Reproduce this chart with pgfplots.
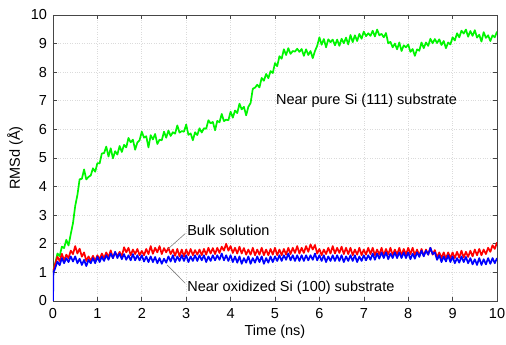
\documentclass[border=0pt]{standalone}
\usepackage{pgfplots}
\pgfplotsset{compat=1.18}
\usepackage{fontspec}
\setmainfont{Liberation Sans}
\definecolor{cgreen}{RGB}{0,245,0}
\definecolor{cred}{RGB}{255,0,0}
\definecolor{cblue}{RGB}{0,0,255}
\definecolor{axgray}{RGB}{70,70,70}
\begin{document}
\fontsize{14.5}{17}\selectfont
\begin{tikzpicture}
\path[use as bounding box] (-53pt,-44pt) rectangle (453pt,301pt);
\begin{axis}[
  at={(0,0)}, anchor=south west,
  scale only axis, width=444pt, height=286pt,
  xmin=0, xmax=10, ymin=0, ymax=10,
  xtick={0,1,...,10}, ytick={0,1,...,10},
  tick align=inside, tick pos=both,
  major tick length=4pt,
  axis line style={axgray, line width=0.9pt},
  tick style={axgray, line width=0.6pt},
  grid=major,
  major grid style={gray!28, dotted, line width=0.6pt},
  /pgf/number format/assume math mode=true,
  ticklabel style={font=\fontsize{14.5}{17}\selectfont},
  xticklabel style={yshift=-2pt},
  yticklabel style={xshift=-1pt},
  label style={font=\fontsize{14.5}{17}\selectfont},
  xlabel={Time (ns)}, ylabel={RMSd (Å)},
  xlabel style={yshift=3pt},
  ylabel style={yshift=-2pt},
  clip=true,
]
\addplot[cgreen, line width=1.7pt, line join=round] coordinates {
(0,1.0) (0.05,1.31) (0.10,1.66) (0.15,1.57) (0.20,1.90) (0.25,1.85) (0.30,2.14) (0.35,1.94) (0.40,2.34) (0.45,2.72)
(0.50,3.32) (0.55,3.71) (0.60,4.26) (0.65,4.27) (0.70,4.60) (0.75,4.25) (0.80,4.34) (0.85,4.39) (0.90,4.64) (0.95,4.52)
(1.00,4.82) (1.05,4.81) (1.10,5.16) (1.15,5.17) (1.20,5.40) (1.25,5.05) (1.30,5.34) (1.35,4.99) (1.40,5.24) (1.45,5.12)
(1.50,5.42) (1.55,5.21) (1.60,5.46) (1.65,5.37) (1.70,5.70) (1.75,5.55) (1.80,5.64) (1.85,5.29) (1.90,5.54) (1.95,5.62)
(2.00,5.92) (2.05,5.71) (2.10,5.76) (2.15,5.37) (2.20,5.80) (2.25,5.65) (2.30,5.84) (2.35,5.49) (2.40,5.64) (2.45,5.62)
(2.50,5.92) (2.55,5.71) (2.60,5.96) (2.65,5.77) (2.70,5.90) (2.75,5.85) (2.80,6.14) (2.85,5.89) (2.90,5.94) (2.95,5.92)
(3.00,6.17) (3.05,5.81) (3.10,5.86) (3.15,5.62) (3.20,5.90) (3.25,5.80) (3.30,6.04) (3.35,5.89) (3.40,6.04) (3.45,6.02)
(3.50,6.32) (3.55,6.21) (3.60,6.26) (3.65,5.97) (3.70,6.30) (3.75,6.25) (3.80,6.54) (3.85,6.29) (3.90,6.34) (3.95,6.32)
(4.00,6.62) (4.05,6.41) (4.10,6.66) (4.15,6.57) (4.20,6.90) (4.25,6.70) (4.30,6.79) (4.35,6.49) (4.40,6.79) (4.45,6.92)
(4.50,7.42) (4.55,7.46) (4.60,7.56) (4.65,7.47) (4.70,7.80) (4.75,7.70) (4.80,7.94) (4.85,7.79) (4.90,8.04) (4.95,7.97)
(5.00,8.32) (5.05,8.21) (5.10,8.56) (5.15,8.47) (5.20,8.80) (5.25,8.60) (5.30,8.84) (5.35,8.64) (5.40,8.74) (5.45,8.72)
(5.50,8.82) (5.55,8.71) (5.60,8.81) (5.65,8.57) (5.70,8.80) (5.75,8.60) (5.80,8.74) (5.85,8.49) (5.90,8.74) (5.95,8.92)
(6.00,9.22) (6.05,8.96) (6.10,9.16) (6.15,8.87) (6.20,9.15) (6.25,9.05) (6.30,9.14) (6.35,8.94) (6.40,9.14) (6.45,8.92)
(6.50,9.17) (6.55,9.01) (6.60,9.21) (6.65,8.97) (6.70,9.30) (6.75,9.05) (6.80,9.29) (6.85,9.09) (6.90,9.34) (6.95,9.17)
(7.00,9.42) (7.05,9.26) (7.10,9.36) (7.15,9.27) (7.20,9.45) (7.25,9.25) (7.30,9.49) (7.35,9.29) (7.40,9.34) (7.45,9.22)
(7.50,9.37) (7.55,9.01) (7.60,9.06) (7.65,8.87) (7.70,9.00) (7.75,8.80) (7.80,9.04) (7.85,8.74) (7.90,8.94) (7.95,8.87)
(8.00,8.97) (8.05,8.71) (8.10,8.81) (8.15,8.57) (8.20,8.80) (8.25,8.75) (8.30,9.04) (8.35,8.84) (8.40,9.04) (8.45,8.92)
(8.50,9.17) (8.55,9.01) (8.60,9.16) (8.65,9.02) (8.70,9.15) (8.75,8.95) (8.80,9.09) (8.85,8.84) (8.90,9.04) (8.95,8.97)
(9.00,9.22) (9.05,9.11) (9.10,9.36) (9.15,9.22) (9.20,9.45) (9.25,9.35) (9.30,9.49) (9.35,9.24) (9.40,9.44) (9.45,9.27)
(9.50,9.47) (9.55,9.21) (9.60,9.31) (9.65,9.07) (9.70,9.40) (9.75,9.20) (9.80,9.29) (9.85,9.09) (9.90,9.29) (9.95,9.22)
(10.0,9.42)
};
\addplot[cred, line width=1.7pt, line join=round] coordinates {
(0,1.0) (0.05,1.30) (0.10,1.55) (0.15,1.40) (0.20,1.65) (0.25,1.42) (0.30,1.62) (0.35,1.50) (0.40,1.76) (0.45,1.64)
(0.50,1.92) (0.55,1.66) (0.60,1.83) (0.65,1.55) (0.70,1.70) (0.75,1.40) (0.80,1.56) (0.85,1.41) (0.90,1.58) (0.95,1.40)
(1.00,1.60) (1.05,1.45) (1.10,1.66) (1.15,1.50) (1.20,1.70) (1.25,1.52) (1.30,1.77) (1.35,1.50) (1.40,1.70) (1.45,1.56)
(1.50,1.72) (1.55,1.55) (1.60,1.88) (1.65,1.70) (1.70,1.86) (1.75,1.60) (1.80,1.80) (1.85,1.64) (1.90,1.82) (1.95,1.60)
(2.00,1.75) (2.05,1.60) (2.10,1.82) (2.15,1.64) (2.20,1.92) (2.25,1.65) (2.30,1.86) (2.35,1.70) (2.40,1.92) (2.45,1.64)
(2.50,1.85) (2.55,1.70) (2.60,1.86) (2.65,1.64) (2.70,1.80) (2.75,1.58) (2.80,1.82) (2.85,1.56) (2.90,1.80) (2.95,1.55)
(3.00,1.80) (3.05,1.60) (3.10,1.82) (3.15,1.60) (3.20,1.78) (3.25,1.62) (3.30,1.80) (3.35,1.60) (3.40,1.82) (3.45,1.62)
(3.50,1.86) (3.55,1.66) (3.60,1.85) (3.65,1.64) (3.70,1.86) (3.75,1.68) (3.80,1.90) (3.85,1.76) (3.90,2.00) (3.95,1.76)
(4.00,1.92) (4.05,1.68) (4.10,1.86) (4.15,1.66) (4.20,1.90) (4.25,1.66) (4.30,1.85) (4.35,1.62) (4.40,1.80) (4.45,1.62)
(4.50,1.86) (4.55,1.60) (4.60,1.80) (4.65,1.62) (4.70,1.86) (4.75,1.60) (4.80,1.80) (4.85,1.60) (4.90,1.82) (4.95,1.62)
(5.00,1.86) (5.05,1.60) (5.10,1.80) (5.15,1.60) (5.20,1.82) (5.25,1.62) (5.30,1.86) (5.35,1.64) (5.40,1.86) (5.45,1.68)
(5.50,1.92) (5.55,1.66) (5.60,1.86) (5.65,1.68) (5.70,1.92) (5.75,1.72) (5.80,1.98) (5.85,1.80) (5.90,1.96) (5.95,1.66)
(6.00,1.82) (6.05,1.60) (6.10,1.80) (6.15,1.64) (6.20,1.86) (6.25,1.66) (6.30,1.92) (6.35,1.66) (6.40,1.86) (6.45,1.68)
(6.50,1.90) (6.55,1.64) (6.60,1.86) (6.65,1.64) (6.70,1.86) (6.75,1.60) (6.80,1.80) (6.85,1.62) (6.90,1.86) (6.95,1.60)
(7.00,1.80) (7.05,1.62) (7.10,1.86) (7.15,1.64) (7.20,1.86) (7.25,1.60) (7.30,1.80) (7.35,1.62) (7.40,1.86) (7.45,1.60)
(7.50,1.82) (7.55,1.62) (7.60,1.86) (7.65,1.60) (7.70,1.80) (7.75,1.62) (7.80,1.86) (7.85,1.60) (7.90,1.82) (7.95,1.62)
(8.00,1.86) (8.05,1.64) (8.10,1.86) (8.15,1.60) (8.20,1.80) (8.25,1.58) (8.30,1.82) (8.35,1.58) (8.40,1.80) (8.45,1.62)
(8.50,1.86) (8.55,1.62) (8.60,1.78) (8.65,1.52) (8.70,1.70) (8.75,1.50) (8.80,1.70) (8.85,1.48) (8.90,1.70) (8.95,1.50)
(9.00,1.70) (9.05,1.50) (9.10,1.72) (9.15,1.52) (9.20,1.76) (9.25,1.52) (9.30,1.72) (9.35,1.54) (9.40,1.76) (9.45,1.56)
(9.50,1.80) (9.55,1.60) (9.60,1.82) (9.65,1.60) (9.70,1.80) (9.75,1.64) (9.80,1.86) (9.85,1.72) (9.90,1.95) (9.95,1.82)
(10.0,2.05)
};
\addplot[cblue, line width=1.7pt, line join=round] coordinates {
(0,0) (0.01,1.0) (0.05,1.15) (0.10,1.38) (0.15,1.25) (0.20,1.50) (0.25,1.32) (0.30,1.50) (0.35,1.36) (0.40,1.56) (0.45,1.38)
(0.50,1.56) (0.55,1.32) (0.60,1.48) (0.65,1.26) (0.70,1.44) (0.75,1.22) (0.80,1.44) (0.85,1.32) (0.90,1.50) (0.95,1.32)
(1.00,1.55) (1.05,1.36) (1.10,1.55) (1.15,1.40) (1.20,1.60) (1.25,1.44) (1.30,1.66) (1.35,1.50) (1.40,1.72) (1.45,1.50)
(1.50,1.66) (1.55,1.46) (1.60,1.64) (1.65,1.44) (1.70,1.60) (1.75,1.42) (1.80,1.64) (1.85,1.42) (1.90,1.60) (1.95,1.42)
(2.00,1.60) (2.05,1.38) (2.10,1.56) (2.15,1.36) (2.20,1.56) (2.25,1.36) (2.30,1.54) (2.35,1.32) (2.40,1.50) (2.45,1.30)
(2.50,1.48) (2.55,1.34) (2.60,1.56) (2.65,1.38) (2.70,1.60) (2.75,1.36) (2.80,1.56) (2.85,1.40) (2.90,1.60) (2.95,1.40)
(3.00,1.60) (3.05,1.36) (3.10,1.56) (3.15,1.40) (3.20,1.60) (3.25,1.40) (3.30,1.60) (3.35,1.42) (3.40,1.60) (3.45,1.36)
(3.50,1.56) (3.55,1.40) (3.60,1.60) (3.65,1.42) (3.70,1.60) (3.75,1.44) (3.80,1.66) (3.85,1.42) (3.90,1.60) (3.95,1.40)
(4.00,1.60) (4.05,1.36) (4.10,1.56) (4.15,1.34) (4.20,1.56) (4.25,1.30) (4.30,1.50) (4.35,1.34) (4.40,1.56) (4.45,1.30)
(4.50,1.50) (4.55,1.34) (4.60,1.56) (4.65,1.36) (4.70,1.56) (4.75,1.30) (4.80,1.50) (4.85,1.34) (4.90,1.56) (4.95,1.36)
(5.00,1.56) (5.05,1.40) (5.10,1.60) (5.15,1.40) (5.20,1.60) (5.25,1.44) (5.30,1.66) (5.35,1.42) (5.40,1.60) (5.45,1.40)
(5.50,1.60) (5.55,1.40) (5.60,1.60) (5.65,1.40) (5.70,1.60) (5.75,1.42) (5.80,1.60) (5.85,1.44) (5.90,1.66) (5.95,1.42)
(6.00,1.60) (6.05,1.40) (6.10,1.60) (6.15,1.36) (6.20,1.56) (6.25,1.40) (6.30,1.60) (6.35,1.40) (6.40,1.60) (6.45,1.40)
(6.50,1.60) (6.55,1.36) (6.60,1.56) (6.65,1.40) (6.70,1.60) (6.75,1.40) (6.80,1.60) (6.85,1.36) (6.90,1.56) (6.95,1.40)
(7.00,1.60) (7.05,1.42) (7.10,1.60) (7.15,1.44) (7.20,1.66) (7.25,1.44) (7.30,1.66) (7.35,1.48) (7.40,1.70) (7.45,1.50)
(7.50,1.70) (7.55,1.46) (7.60,1.66) (7.65,1.50) (7.70,1.70) (7.75,1.50) (7.80,1.70) (7.85,1.50) (7.90,1.70) (7.95,1.50)
(8.00,1.70) (8.05,1.46) (8.10,1.66) (8.15,1.48) (8.20,1.70) (8.25,1.54) (8.30,1.76) (8.35,1.56) (8.40,1.76) (8.45,1.62)
(8.50,1.86) (8.55,1.64) (8.60,1.70) (8.65,1.44) (8.70,1.60) (8.75,1.36) (8.80,1.56) (8.85,1.38) (8.90,1.60) (8.95,1.36)
(9.00,1.56) (9.05,1.32) (9.10,1.50) (9.15,1.34) (9.20,1.56) (9.25,1.36) (9.30,1.54) (9.35,1.32) (9.40,1.50) (9.45,1.28)
(9.50,1.46) (9.55,1.26) (9.60,1.50) (9.65,1.26) (9.70,1.46) (9.75,1.28) (9.80,1.50) (9.85,1.30) (9.90,1.50) (9.95,1.32)
(10.0,1.50)
};
\node[anchor=west, inner sep=0pt] at (axis cs:5.02,7.0) {Near pure Si (111) substrate};
\node[anchor=west, inner sep=0pt] at (axis cs:3.02,2.48) {Bulk solution};
\node[anchor=west, inner sep=0pt] at (axis cs:3.02,0.45) {Near oxidized Si (100) substrate};
\draw[gray, line width=0.6pt] (axis cs:2.98,2.36) -- (axis cs:2.59,1.82);
\draw[gray, line width=0.6pt] (axis cs:2.98,0.62) -- (axis cs:2.57,1.26);
\end{axis}
\end{tikzpicture}
\end{document}
